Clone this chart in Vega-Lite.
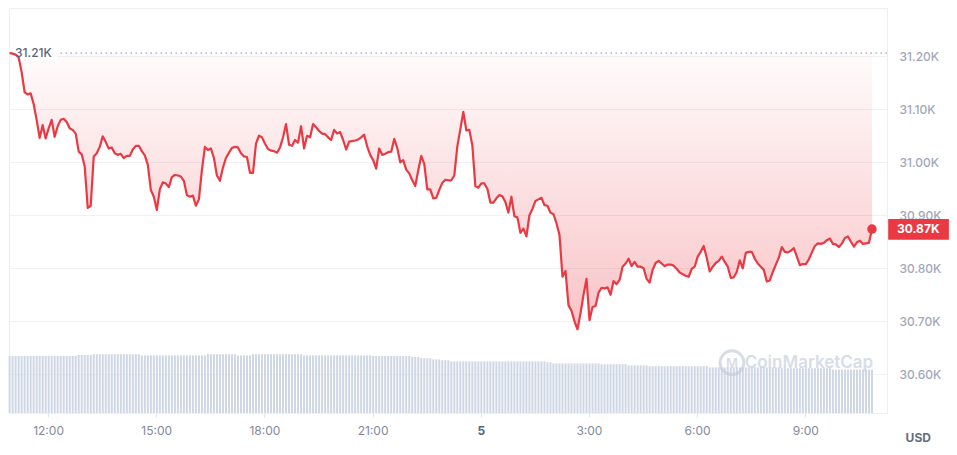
{
  "$schema": "https://vega.github.io/schema/vega-lite/v6.json",
  "autosize": {"type": "none"},
  "width": 878,
  "height": 405,
  "padding": {"left": 9, "top": 8, "right": 70, "bottom": 42},
  "background": "#ffffff",
  "config": {
    "view": {"stroke": "#eceff3"},
    "font": "Inter"
  },
  "datasets": {
    "d": [
      {"t":"2023-07-04T10:56","p":31206,"v":14.25},{"t":"2023-07-04T11:01","p":31205,"v":14.25},{"t":"2023-07-04T11:06","p":31203,"v":14.25},{"t":"2023-07-04T11:11","p":31198,"v":14.25},{"t":"2023-07-04T11:16","p":31170,"v":14.25},{"t":"2023-07-04T11:21","p":31132,"v":14.25},{"t":"2023-07-04T11:26","p":31128,"v":14.25},{"t":"2023-07-04T11:31","p":31130,"v":14.25},{"t":"2023-07-04T11:36","p":31110,"v":14.25},{"t":"2023-07-04T11:41","p":31080,"v":14.25},{"t":"2023-07-04T11:46","p":31046,"v":14.25},{"t":"2023-07-04T11:51","p":31070,"v":14.25},
      {"t":"2023-07-04T11:56","p":31045,"v":14.25},{"t":"2023-07-04T12:01","p":31064,"v":14.25},{"t":"2023-07-04T12:06","p":31080,"v":14.25},{"t":"2023-07-04T12:11","p":31048,"v":14.25},{"t":"2023-07-04T12:16","p":31068,"v":14.25},{"t":"2023-07-04T12:21","p":31080,"v":14.25},{"t":"2023-07-04T12:26","p":31082,"v":14.25},{"t":"2023-07-04T12:31","p":31076,"v":14.25},{"t":"2023-07-04T12:36","p":31064,"v":14.25},{"t":"2023-07-04T12:41","p":31061,"v":14.25},{"t":"2023-07-04T12:46","p":31054,"v":14.25},{"t":"2023-07-04T12:51","p":31020,"v":14.5},
      {"t":"2023-07-04T12:56","p":31015,"v":14.5},{"t":"2023-07-04T13:01","p":30992,"v":14.5},{"t":"2023-07-04T13:06","p":30914,"v":14.5},{"t":"2023-07-04T13:11","p":30918,"v":14.5},{"t":"2023-07-04T13:16","p":31011,"v":14.7},{"t":"2023-07-04T13:21","p":31017,"v":14.7},{"t":"2023-07-04T13:26","p":31029,"v":14.7},{"t":"2023-07-04T13:31","p":31049,"v":14.7},{"t":"2023-07-04T13:36","p":31038,"v":14.7},{"t":"2023-07-04T13:41","p":31026,"v":14.7},{"t":"2023-07-04T13:46","p":31028,"v":14.7},{"t":"2023-07-04T13:51","p":31017,"v":14.7},
      {"t":"2023-07-04T13:56","p":31014,"v":14.7},{"t":"2023-07-04T14:01","p":31016,"v":14.7},{"t":"2023-07-04T14:06","p":31008,"v":14.7},{"t":"2023-07-04T14:11","p":31012,"v":14.7},{"t":"2023-07-04T14:16","p":31012,"v":14.7},{"t":"2023-07-04T14:21","p":31024,"v":14.7},{"t":"2023-07-04T14:26","p":31031,"v":14.7},{"t":"2023-07-04T14:31","p":31031,"v":14.7},{"t":"2023-07-04T14:36","p":31021,"v":14.4},{"t":"2023-07-04T14:41","p":31013,"v":14.4},{"t":"2023-07-04T14:46","p":30995,"v":14.4},{"t":"2023-07-04T14:51","p":30948,"v":14.4},
      {"t":"2023-07-04T14:56","p":30935,"v":14.4},{"t":"2023-07-04T15:01","p":30910,"v":14.4},{"t":"2023-07-04T15:06","p":30949,"v":14.4},{"t":"2023-07-04T15:11","p":30962,"v":14.4},{"t":"2023-07-04T15:16","p":30960,"v":14.4},{"t":"2023-07-04T15:21","p":30953,"v":14.4},{"t":"2023-07-04T15:26","p":30972,"v":14.4},{"t":"2023-07-04T15:31","p":30976,"v":14.4},{"t":"2023-07-04T15:36","p":30975,"v":14.4},{"t":"2023-07-04T15:41","p":30973,"v":14.4},{"t":"2023-07-04T15:46","p":30965,"v":14.4},{"t":"2023-07-04T15:51","p":30938,"v":14.4},
      {"t":"2023-07-04T15:56","p":30935,"v":14.4},{"t":"2023-07-04T16:01","p":30937,"v":14.4},{"t":"2023-07-04T16:06","p":30918,"v":14.4},{"t":"2023-07-04T16:11","p":30930,"v":14.4},{"t":"2023-07-04T16:16","p":30985,"v":14.4},{"t":"2023-07-04T16:21","p":31029,"v":14.4},{"t":"2023-07-04T16:26","p":31023,"v":14.7},{"t":"2023-07-04T16:31","p":31026,"v":14.7},{"t":"2023-07-04T16:36","p":31008,"v":14.7},{"t":"2023-07-04T16:41","p":30975,"v":14.7},{"t":"2023-07-04T16:46","p":30965,"v":14.7},{"t":"2023-07-04T16:51","p":30990,"v":14.7},
      {"t":"2023-07-04T16:56","p":31008,"v":14.7},{"t":"2023-07-04T17:01","p":31018,"v":14.7},{"t":"2023-07-04T17:06","p":31027,"v":14.7},{"t":"2023-07-04T17:11","p":31029,"v":14.7},{"t":"2023-07-04T17:16","p":31028,"v":14.4},{"t":"2023-07-04T17:21","p":31017,"v":14.4},{"t":"2023-07-04T17:26","p":31011,"v":14.4},{"t":"2023-07-04T17:31","p":31010,"v":14.4},{"t":"2023-07-04T17:36","p":30980,"v":14.4},{"t":"2023-07-04T17:41","p":30980,"v":14.7},{"t":"2023-07-04T17:46","p":31035,"v":14.7},{"t":"2023-07-04T17:51","p":31050,"v":14.7},
      {"t":"2023-07-04T17:56","p":31047,"v":14.7},{"t":"2023-07-04T18:01","p":31035,"v":14.7},{"t":"2023-07-04T18:06","p":31025,"v":14.7},{"t":"2023-07-04T18:11","p":31022,"v":14.7},{"t":"2023-07-04T18:16","p":31021,"v":14.7},{"t":"2023-07-04T18:21","p":31018,"v":14.7},{"t":"2023-07-04T18:26","p":31028,"v":14.7},{"t":"2023-07-04T18:31","p":31047,"v":14.7},{"t":"2023-07-04T18:36","p":31072,"v":14.7},{"t":"2023-07-04T18:41","p":31033,"v":14.7},{"t":"2023-07-04T18:46","p":31031,"v":14.7},{"t":"2023-07-04T18:51","p":31042,"v":14.7},
      {"t":"2023-07-04T18:56","p":31037,"v":14.7},{"t":"2023-07-04T19:01","p":31068,"v":14.7},{"t":"2023-07-04T19:06","p":31026,"v":14.4},{"t":"2023-07-04T19:11","p":31050,"v":14.4},{"t":"2023-07-04T19:16","p":31047,"v":14.4},{"t":"2023-07-04T19:21","p":31072,"v":14.4},{"t":"2023-07-04T19:26","p":31066,"v":14.4},{"t":"2023-07-04T19:31","p":31059,"v":14.4},{"t":"2023-07-04T19:36","p":31054,"v":14.4},{"t":"2023-07-04T19:41","p":31053,"v":14.4},{"t":"2023-07-04T19:46","p":31047,"v":14.4},{"t":"2023-07-04T19:51","p":31042,"v":14.4},
      {"t":"2023-07-04T19:56","p":31061,"v":14.4},{"t":"2023-07-04T20:01","p":31054,"v":14.4},{"t":"2023-07-04T20:06","p":31057,"v":14.4},{"t":"2023-07-04T20:11","p":31042,"v":14.4},{"t":"2023-07-04T20:16","p":31024,"v":14.4},{"t":"2023-07-04T20:21","p":31039,"v":14.4},{"t":"2023-07-04T20:26","p":31040,"v":14.4},{"t":"2023-07-04T20:31","p":31041,"v":14.4},{"t":"2023-07-04T20:36","p":31043,"v":14.4},{"t":"2023-07-04T20:41","p":31047,"v":14.4},{"t":"2023-07-04T20:46","p":31052,"v":14.4},{"t":"2023-07-04T20:51","p":31030,"v":14.4},
      {"t":"2023-07-04T20:56","p":31014,"v":14.4},{"t":"2023-07-04T21:01","p":31004,"v":14.25},{"t":"2023-07-04T21:06","p":30988,"v":14.25},{"t":"2023-07-04T21:11","p":31026,"v":14.25},{"t":"2023-07-04T21:16","p":31014,"v":14.25},{"t":"2023-07-04T21:21","p":31016,"v":14.25},{"t":"2023-07-04T21:26","p":31019,"v":14.25},{"t":"2023-07-04T21:31","p":31020,"v":14.25},{"t":"2023-07-04T21:36","p":31044,"v":14.25},{"t":"2023-07-04T21:41","p":31027,"v":14.25},{"t":"2023-07-04T21:46","p":31000,"v":14.25},{"t":"2023-07-04T21:51","p":31004,"v":14.25},
      {"t":"2023-07-04T21:56","p":30986,"v":14.25},{"t":"2023-07-04T22:01","p":30979,"v":14.25},{"t":"2023-07-04T22:06","p":30966,"v":14.0},{"t":"2023-07-04T22:11","p":30955,"v":14.0},{"t":"2023-07-04T22:16","p":30985,"v":14.0},{"t":"2023-07-04T22:21","p":31012,"v":13.7},{"t":"2023-07-04T22:26","p":30997,"v":13.7},{"t":"2023-07-04T22:31","p":30949,"v":13.7},{"t":"2023-07-04T22:36","p":30949,"v":13.7},{"t":"2023-07-04T22:41","p":30932,"v":13.4},{"t":"2023-07-04T22:46","p":30933,"v":13.4},{"t":"2023-07-04T22:51","p":30948,"v":13.4},
      {"t":"2023-07-04T22:56","p":30961,"v":13.2},{"t":"2023-07-04T23:01","p":30967,"v":13.2},{"t":"2023-07-04T23:06","p":30966,"v":13.2},{"t":"2023-07-04T23:11","p":30966,"v":12.9},{"t":"2023-07-04T23:16","p":30975,"v":12.9},{"t":"2023-07-04T23:21","p":31030,"v":12.9},{"t":"2023-07-04T23:26","p":31062,"v":12.9},{"t":"2023-07-04T23:31","p":31095,"v":12.9},{"t":"2023-07-04T23:36","p":31060,"v":12.9},{"t":"2023-07-04T23:41","p":31061,"v":12.9},{"t":"2023-07-04T23:46","p":31032,"v":12.9},{"t":"2023-07-04T23:51","p":30955,"v":12.9},
      {"t":"2023-07-04T23:56","p":30952,"v":12.9},{"t":"2023-07-05T00:01","p":30960,"v":12.9},{"t":"2023-07-05T00:06","p":30960,"v":12.9},{"t":"2023-07-05T00:11","p":30950,"v":12.9},{"t":"2023-07-05T00:16","p":30924,"v":12.9},{"t":"2023-07-05T00:21","p":30924,"v":12.9},{"t":"2023-07-05T00:26","p":30932,"v":12.9},{"t":"2023-07-05T00:31","p":30938,"v":12.9},{"t":"2023-07-05T00:36","p":30936,"v":12.9},{"t":"2023-07-05T00:41","p":30925,"v":12.9},{"t":"2023-07-05T00:46","p":30905,"v":12.9},{"t":"2023-07-05T00:51","p":30935,"v":12.9},
      {"t":"2023-07-05T00:56","p":30898,"v":12.9},{"t":"2023-07-05T01:01","p":30896,"v":12.9},{"t":"2023-07-05T01:06","p":30867,"v":12.9},{"t":"2023-07-05T01:11","p":30875,"v":12.9},{"t":"2023-07-05T01:16","p":30860,"v":12.9},{"t":"2023-07-05T01:21","p":30900,"v":12.9},{"t":"2023-07-05T01:26","p":30912,"v":12.9},{"t":"2023-07-05T01:31","p":30927,"v":12.9},{"t":"2023-07-05T01:36","p":30930,"v":12.9},{"t":"2023-07-05T01:41","p":30933,"v":12.9},{"t":"2023-07-05T01:46","p":30919,"v":12.9},{"t":"2023-07-05T01:51","p":30918,"v":12.7},
      {"t":"2023-07-05T01:56","p":30905,"v":12.7},{"t":"2023-07-05T02:01","p":30902,"v":12.4},{"t":"2023-07-05T02:06","p":30885,"v":12.4},{"t":"2023-07-05T02:11","p":30863,"v":12.4},{"t":"2023-07-05T02:16","p":30784,"v":12.4},{"t":"2023-07-05T02:21","p":30795,"v":12.4},{"t":"2023-07-05T02:26","p":30730,"v":12.4},{"t":"2023-07-05T02:31","p":30720,"v":12.4},{"t":"2023-07-05T02:36","p":30700,"v":12.4},{"t":"2023-07-05T02:41","p":30685,"v":12.4},{"t":"2023-07-05T02:46","p":30715,"v":12.4},{"t":"2023-07-05T02:51","p":30750,"v":12.4},
      {"t":"2023-07-05T02:56","p":30780,"v":12.4},{"t":"2023-07-05T03:01","p":30702,"v":12.4},{"t":"2023-07-05T03:06","p":30727,"v":12.4},{"t":"2023-07-05T03:11","p":30729,"v":12.4},{"t":"2023-07-05T03:16","p":30754,"v":12.4},{"t":"2023-07-05T03:21","p":30763,"v":12.2},{"t":"2023-07-05T03:26","p":30762,"v":12.2},{"t":"2023-07-05T03:31","p":30764,"v":12.2},{"t":"2023-07-05T03:36","p":30750,"v":12.2},{"t":"2023-07-05T03:41","p":30776,"v":12.2},{"t":"2023-07-05T03:46","p":30770,"v":12.2},{"t":"2023-07-05T03:51","p":30778,"v":12.2},
      {"t":"2023-07-05T03:56","p":30803,"v":12.2},{"t":"2023-07-05T04:01","p":30809,"v":12.2},{"t":"2023-07-05T04:06","p":30818,"v":11.9},{"t":"2023-07-05T04:11","p":30804,"v":11.9},{"t":"2023-07-05T04:16","p":30812,"v":11.9},{"t":"2023-07-05T04:21","p":30803,"v":11.9},{"t":"2023-07-05T04:26","p":30803,"v":11.9},{"t":"2023-07-05T04:31","p":30800,"v":11.9},{"t":"2023-07-05T04:36","p":30780,"v":11.9},{"t":"2023-07-05T04:41","p":30773,"v":11.7},{"t":"2023-07-05T04:46","p":30797,"v":11.7},{"t":"2023-07-05T04:51","p":30810,"v":11.7},
      {"t":"2023-07-05T04:56","p":30814,"v":11.7},{"t":"2023-07-05T05:01","p":30809,"v":11.7},{"t":"2023-07-05T05:06","p":30804,"v":11.7},{"t":"2023-07-05T05:11","p":30807,"v":11.7},{"t":"2023-07-05T05:16","p":30807,"v":11.7},{"t":"2023-07-05T05:21","p":30805,"v":11.7},{"t":"2023-07-05T05:26","p":30799,"v":11.7},{"t":"2023-07-05T05:31","p":30792,"v":11.7},{"t":"2023-07-05T05:36","p":30789,"v":11.7},{"t":"2023-07-05T05:41","p":30786,"v":11.7},{"t":"2023-07-05T05:46","p":30784,"v":11.7},{"t":"2023-07-05T05:51","p":30799,"v":11.7},
      {"t":"2023-07-05T05:56","p":30803,"v":11.7},{"t":"2023-07-05T06:01","p":30822,"v":11.7},{"t":"2023-07-05T06:06","p":30831,"v":11.7},{"t":"2023-07-05T06:11","p":30842,"v":11.7},{"t":"2023-07-05T06:16","p":30820,"v":11.7},{"t":"2023-07-05T06:21","p":30794,"v":11.4},{"t":"2023-07-05T06:26","p":30803,"v":11.4},{"t":"2023-07-05T06:31","p":30810,"v":11.4},{"t":"2023-07-05T06:36","p":30814,"v":11.4},{"t":"2023-07-05T06:41","p":30822,"v":11.4},{"t":"2023-07-05T06:46","p":30812,"v":11.4},{"t":"2023-07-05T06:51","p":30803,"v":11.4},
      {"t":"2023-07-05T06:56","p":30782,"v":11.4},{"t":"2023-07-05T07:01","p":30783,"v":11.4},{"t":"2023-07-05T07:06","p":30793,"v":11.4},{"t":"2023-07-05T07:11","p":30815,"v":11.4},{"t":"2023-07-05T07:16","p":30800,"v":11.4},{"t":"2023-07-05T07:21","p":30829,"v":11.4},{"t":"2023-07-05T07:26","p":30831,"v":11.4},{"t":"2023-07-05T07:31","p":30831,"v":11.4},{"t":"2023-07-05T07:36","p":30818,"v":11.4},{"t":"2023-07-05T07:41","p":30809,"v":11.4},{"t":"2023-07-05T07:46","p":30803,"v":11.4},{"t":"2023-07-05T07:51","p":30797,"v":11.4},
      {"t":"2023-07-05T07:56","p":30775,"v":11.4},{"t":"2023-07-05T08:01","p":30777,"v":11.4},{"t":"2023-07-05T08:06","p":30793,"v":11.4},{"t":"2023-07-05T08:11","p":30807,"v":11.4},{"t":"2023-07-05T08:16","p":30820,"v":11.4},{"t":"2023-07-05T08:21","p":30840,"v":11.2},{"t":"2023-07-05T08:26","p":30831,"v":11.2},{"t":"2023-07-05T08:31","p":30830,"v":11.2},{"t":"2023-07-05T08:36","p":30833,"v":11.2},{"t":"2023-07-05T08:41","p":30838,"v":11.2},{"t":"2023-07-05T08:46","p":30822,"v":11.2},{"t":"2023-07-05T08:51","p":30806,"v":11.2},
      {"t":"2023-07-05T08:56","p":30808,"v":11.2},{"t":"2023-07-05T09:01","p":30808,"v":11.2},{"t":"2023-07-05T09:06","p":30817,"v":11.2},{"t":"2023-07-05T09:11","p":30830,"v":11.2},{"t":"2023-07-05T09:16","p":30842,"v":11.2},{"t":"2023-07-05T09:21","p":30847,"v":11.2},{"t":"2023-07-05T09:26","p":30846,"v":11.2},{"t":"2023-07-05T09:31","p":30848,"v":11.2},{"t":"2023-07-05T09:36","p":30853,"v":11.2},{"t":"2023-07-05T09:41","p":30856,"v":11.2},{"t":"2023-07-05T09:46","p":30846,"v":10.85},{"t":"2023-07-05T09:51","p":30845,"v":10.85},
      {"t":"2023-07-05T09:56","p":30840,"v":10.85},{"t":"2023-07-05T10:01","p":30847,"v":10.85},{"t":"2023-07-05T10:06","p":30857,"v":10.85},{"t":"2023-07-05T10:11","p":30860,"v":10.85},{"t":"2023-07-05T10:16","p":30850,"v":10.85},{"t":"2023-07-05T10:21","p":30841,"v":10.85},{"t":"2023-07-05T10:26","p":30849,"v":10.85},{"t":"2023-07-05T10:31","p":30852,"v":10.85},{"t":"2023-07-05T10:36","p":30846,"v":10.85},{"t":"2023-07-05T10:41","p":30847,"v":10.85},{"t":"2023-07-05T10:46","p":30848,"v":10.85},{"t":"2023-07-05T10:51","p":30874,"v":10.85}
    ],
    "last": [{"t":"2023-07-05T10:51","p":30874}],
    "one": [{}]
  },
  "layer": [
    {
      "data": {"name": "d"},
      "mark": {"type": "bar", "size": 2, "color": "#cfd6e4"},
      "encoding": {
        "x": {
          "field": "t", "type": "temporal",
          "scale": {"domain": [{"year":2023,"month":7,"date":4,"hours":10,"minutes":55},{"year":2023,"month":7,"date":5,"hours":11,"minutes":16}], "padding": 0},
          "axis": {
            "title": null,
            "values": [
              {"year":2023,"month":7,"date":4,"hours":12},{"year":2023,"month":7,"date":4,"hours":15},{"year":2023,"month":7,"date":4,"hours":18},{"year":2023,"month":7,"date":4,"hours":21},
              {"year":2023,"month":7,"date":5,"hours":0},{"year":2023,"month":7,"date":5,"hours":3},{"year":2023,"month":7,"date":5,"hours":6},{"year":2023,"month":7,"date":5,"hours":9}
            ],
            "labelExpr": "hours(datum.value) == 0 ? timeFormat(datum.value, '%-d') : timeFormat(datum.value, '%-H:%M')",
            "labelFont": "Inter",
            "labelFontSize": 12,
            "labelColor": {"condition": {"test": "hours(datum.value) == 0", "value": "#58667e"}, "value": "#7f899c"},
            "labelFontWeight": {"condition": {"test": "hours(datum.value) == 0", "value": "bold"}, "value": "normal"},
            "labelPadding": 8,
            "tickSize": 4,
            "tickColor": "#dfe3ea",
            "domainColor": "#eceff3",
            "grid": false
          }
        },
        "y": {"field": "v", "type": "quantitative", "scale": {"domain": [0, 101.25], "nice": false, "zero": true, "padding": 0}, "axis": null}
      }
    },
    {
      "layer": [
        {
          "data": {"name": "d"},
          "mark": {
            "type": "area",
            "color": {"gradient": "linear", "x1": 0, "y1": 0, "x2": 0, "y2": 1,
              "stops": [{"offset": 0, "color": "rgba(234,57,67,0.02)"}, {"offset": 1, "color": "rgba(234,57,67,0.3)"}]}
          },
          "encoding": {
            "x": {"field": "t", "type": "temporal"},
            "y": {
              "field": "p", "type": "quantitative",
              "scale": {"domain": [30527, 31291], "nice": false, "zero": false},
              "axis": {
                "orient": "right", "title": null,
                "values": [30600, 30700, 30800, 30900, 31000, 31100, 31200],
                "labelExpr": "format(datum.value / 1000, '.2f') + 'K'",
                "labelFont": "Inter", "labelFontSize": 12, "labelFontWeight": 500,
                "labelColor": "#a1a7bb", "labelPadding": 12,
                "ticks": false, "domain": false,
                "grid": true, "gridColor": "#eff1f5"
              }
            },
            "y2": {"datum": 31206}
          }
        },
        {
          "data": {"name": "one"},
          "mark": {"type": "rule", "color": "#8a93a6", "strokeDash": [1.5, 3.5], "strokeWidth": 1},
          "encoding": {"y": {"datum": 31206}}
        },
        {
          "data": {"name": "one"},
          "mark": {"type": "rect", "color": "#ffffff"},
          "encoding": {
            "x": {"datum": {"year":2023,"month":7,"date":4,"hours":11,"minutes":0}},
            "x2": {"datum": {"year":2023,"month":7,"date":4,"hours":12,"minutes":16}},
            "y": {"datum": 31218},
            "y2": {"datum": 31194}
          }
        },
        {
          "data": {"name": "d"},
          "mark": {"type": "line", "color": "#ea3943", "strokeWidth": 2.2, "strokeJoin": "round"},
          "encoding": {
            "x": {"field": "t", "type": "temporal"},
            "y": {"field": "p", "type": "quantitative"}
          }
        },
        {
          "data": {"name": "one"},
          "mark": {"type": "text", "align": "left", "baseline": "middle", "font": "Inter", "fontSize": 12, "fontWeight": 500, "color": "#58667e"},
          "encoding": {
            "x": {"datum": {"year":2023,"month":7,"date":4,"hours":11,"minutes":5}},
            "y": {"datum": 31206},
            "text": {"value": "31.21K"}
          }
        },
        {
          "data": {"name": "last"},
          "mark": {"type": "point", "filled": true, "size": 90, "color": "#ea3943", "opacity": 1},
          "encoding": {
            "x": {"field": "t", "type": "temporal"},
            "y": {"field": "p", "type": "quantitative"}
          }
        },
        {
          "data": {"name": "one"},
          "mark": {"type": "rect", "color": "#ea3943"},
          "encoding": {
            "x": {"datum": {"year":2023,"month":7,"date":5,"hours":11,"minutes":18}},
            "x2": {"datum": {"year":2023,"month":7,"date":5,"hours":12,"minutes":59}},
            "y": {"datum": 30893},
            "y2": {"datum": 30854}
          }
        },
        {
          "data": {"name": "one"},
          "mark": {"type": "text", "align": "center", "baseline": "middle", "font": "Inter", "fontSize": 12, "fontWeight": "bold", "color": "#ffffff"},
          "encoding": {
            "x": {"datum": {"year":2023,"month":7,"date":5,"hours":12,"minutes":8}},
            "y": {"datum": 30874},
            "text": {"value": "30.87K"}
          }
        },
        {
          "data": {"name": "one"},
          "mark": {"type": "text", "align": "center", "baseline": "middle", "font": "Inter", "fontSize": 12, "fontWeight": "bold", "color": "#616e85"},
          "encoding": {
            "x": {"datum": {"year":2023,"month":7,"date":5,"hours":12,"minutes":8}},
            "y": {"datum": 30480},
            "text": {"value": "USD"}
          }
        },
        {
          "data": {"name": "one"},
          "mark": {"type": "text", "align": "right", "baseline": "middle", "font": "Inter", "fontSize": 17, "fontWeight": 600, "color": "#c3cbdb", "opacity": 0.65},
          "encoding": {
            "x": {"datum": {"year":2023,"month":7,"date":5,"hours":10,"minutes":53}},
            "y": {"datum": 30621},
            "text": {"value": "CoinMarketCap"}
          }
        },
        {
          "data": {"name": "one"},
          "mark": {"type": "point", "shape": "circle", "filled": false, "size": 560, "strokeWidth": 3, "color": "#c3cbdb", "opacity": 0.65},
          "encoding": {
            "x": {"datum": {"year":2023,"month":7,"date":5,"hours":6,"minutes":58}},
            "y": {"datum": 30622}
          }
        },
        {
          "data": {"name": "one"},
          "mark": {"type": "text", "align": "center", "baseline": "middle", "font": "Inter", "fontSize": 13, "fontWeight": 600, "color": "#c3cbdb", "opacity": 0.65},
          "encoding": {
            "x": {"datum": {"year":2023,"month":7,"date":5,"hours":6,"minutes":58}},
            "y": {"datum": 30620},
            "text": {"value": "M"}
          }
        }
      ]
    }
  ],
  "resolve": {"scale": {"y": "independent"}, "axis": {"y": "independent"}}
}
